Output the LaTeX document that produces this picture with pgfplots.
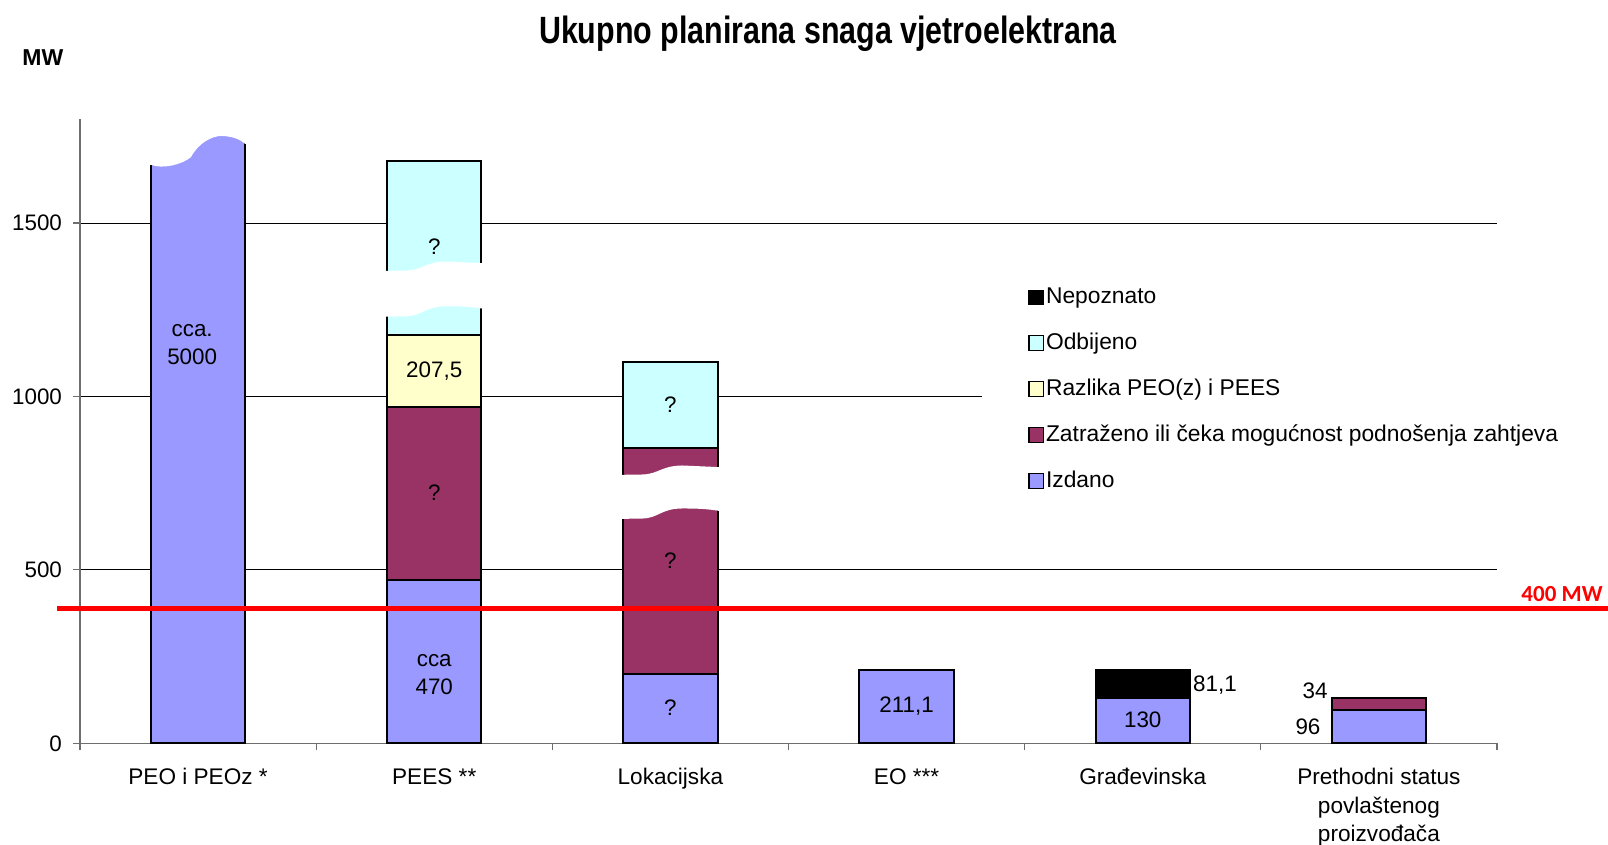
\documentclass[border=0pt]{standalone}
\usepackage{fontspec}
\setmainfont{Liberation Sans}
\newfontfamily\narrowfont[FakeStretch=0.8]{Liberation Sans}
\newfontfamily\carlito{Carlito}
\usepackage{pgfplots}
\pgfplotsset{compat=1.18}
\definecolor{izdano}{RGB}{153,153,255}
\definecolor{zatrazeno}{RGB}{153,51,102}
\definecolor{razlika}{RGB}{255,255,204}
\definecolor{odbijeno}{RGB}{204,255,255}
\definecolor{axgray}{RGB}{110,110,110}
\begin{document}
\begin{tikzpicture}
\useasboundingbox (-40pt,-50.85pt) rectangle (764pt,371.65pt);
\begin{axis}[
  scale only axis, width=708.5pt, height=312.15pt,
  ybar stacked, bar width=0.4,
  xmin=-0.5, xmax=5.5, ymin=0, ymax=1800,
  enlargelimits=false,
  axis x line*=bottom, axis y line*=left,
  axis line style={axgray, line width=0.6pt},
  xtick={0,1,2,3,4,5},
  xticklabels={PEO i PEOz *, PEES **, Lokacijska, EO ***, Građevinska, {Prethodni status\\povlaštenog\\proizvođača}},
  xticklabel style={align=center, font=\fontsize{11.3}{14.25}\selectfont, yshift=-5.5pt},
  major x tick style={draw=none},
  minor xtick={-0.5,0.5,...,5.5},
  minor x tick style={axgray, line width=0.6pt},
  tick align=outside,
  major tick length=3.5pt, minor tick length=3.5pt,
  ytick={0,500,1000,1500},
  yticklabel style={font=\fontsize{11.2}{12}\selectfont, xshift=-2pt},
  y tick style={axgray, line width=0.6pt},
  ymajorgrids, grid style={black, line width=0.5pt},
  /pgf/number format/assume math mode=true,
  /pgf/number format/1000 sep={},
  clip=false,
  reverse legend,
  legend cell align=left,
  legend image code/.code={\draw[#1, draw=black, line width=0.6pt] (0pt,-3.6pt) rectangle (7.2pt,3.6pt);},
  legend style={at={(axis description cs:0.6366,0.7520)}, anchor=north west,
    draw=none, fill=white, inner xsep=23pt, inner ysep=6pt,
    font=\fontsize{11.4}{12}\selectfont, row sep=11.2pt,
    nodes={inner sep=1pt}},
]
\addplot[fill=izdano, draw=black, line width=1pt] coordinates {(0,1760) (1,470) (2,200) (3,211.1) (4,130) (5,96)};
\addlegendentry{Izdano}
\addplot[fill=zatrazeno, draw=black, line width=1pt] coordinates {(0,0) (1,500) (2,650) (3,0) (4,0) (5,34)};
\addlegendentry{Zatraženo ili čeka mogućnost podnošenja zahtjeva}
\addplot[fill=razlika, draw=black, line width=1pt] coordinates {(0,0) (1,207.5) (2,0) (3,0) (4,0) (5,0)};
\addlegendentry{Razlika PEO(z) i PEES}
\addplot[fill=odbijeno, draw=black, line width=1pt] coordinates {(0,0) (1,500) (2,250) (3,0) (4,0) (5,0)};
\addlegendentry{Odbijeno}
\addplot[fill=black, draw=black, line width=1pt] coordinates {(0,0) (1,0) (2,0) (3,0) (4,81.1) (5,0)};
\addlegendentry{Nepoznato}
\end{axis}
% overlay axis with identical geometry for breaks, reference line and labels
\begin{axis}[
  scale only axis, width=708.5pt, height=312.15pt,
  xmin=-0.5, xmax=5.5, ymin=0, ymax=1800,
  enlargelimits=false, hide axis, clip=false,
]
\fill[white] (axis cs:-0.215,1800) -- (axis cs:-0.215,1668) -- (axis cs:-0.2,1668)
  .. controls (axis cs:-0.15,1655) and (axis cs:-0.07,1668) .. (axis cs:-0.03,1690)
  .. controls (axis cs:0.0,1730) and (axis cs:0.06,1752) .. (axis cs:0.1,1751)
  .. controls (axis cs:0.15,1750) and (axis cs:0.18,1740) .. (axis cs:0.2,1728)
  -- (axis cs:0.215,1728) -- (axis cs:0.215,1800) -- cycle;
\fill[white] (axis cs:0.785,1362) -- (axis cs:0.88,1363)
  .. controls (axis cs:0.95,1364) and (axis cs:0.96,1388) .. (axis cs:1.05,1389)
  -- (axis cs:1.215,1384) -- (axis cs:1.215,1252)
  .. controls (axis cs:1.15,1260) and (axis cs:1.1,1260) .. (axis cs:1.05,1260)
  .. controls (axis cs:0.96,1260) and (axis cs:0.95,1232) .. (axis cs:0.88,1231)
  -- (axis cs:0.785,1230) -- cycle;
\fill[white] (axis cs:1.785,774) -- (axis cs:1.88,775)
  .. controls (axis cs:1.95,776) and (axis cs:1.96,800) .. (axis cs:2.05,801)
  -- (axis cs:2.215,796) -- (axis cs:2.215,669)
  .. controls (axis cs:2.15,677) and (axis cs:2.1,677) .. (axis cs:2.05,677)
  .. controls (axis cs:1.96,677) and (axis cs:1.95,649) .. (axis cs:1.88,648)
  -- (axis cs:1.785,647) -- cycle;
\draw[red, line width=2.5pt] (axis cs:-0.597,390) -- (axis cs:5.969,390);
\node[font=\fontsize{11.2}{14}\selectfont, align=center, inner sep=0pt] at (axis cs:-0.025,1150) {cca.\\5000};
\node[font=\fontsize{11.2}{14}\selectfont, inner sep=0pt] at (axis cs:1,1431) {?};
\node[font=\fontsize{11.2}{14}\selectfont, inner sep=0pt] at (axis cs:1,1074) {207,5};
\node[font=\fontsize{11.2}{14}\selectfont, inner sep=0pt] at (axis cs:1,722) {?};
\node[font=\fontsize{11.2}{14}\selectfont, align=center, inner sep=0pt] at (axis cs:1,198) {cca\\470};
\node[font=\fontsize{11.2}{14}\selectfont, inner sep=0pt] at (axis cs:2,975) {?};
\node[font=\fontsize{11.2}{14}\selectfont, inner sep=0pt] at (axis cs:2,526) {?};
\node[font=\fontsize{11.2}{14}\selectfont, inner sep=0pt] at (axis cs:2,103) {?};
\node[font=\fontsize{11.2}{14}\selectfont, inner sep=0pt] at (axis cs:3,106) {211,1};
\node[font=\fontsize{11.2}{14}\selectfont, inner sep=0pt] at (axis cs:4,67) {130};
\node[font=\fontsize{11.2}{14}\selectfont, inner sep=0pt, anchor=west] at (axis cs:4.212,168) {81,1};
\node[font=\fontsize{11.2}{14}\selectfont, inner sep=0pt, anchor=east] at (axis cs:4.784,152) {34};
\node[font=\fontsize{11.2}{14}\selectfont, inner sep=0pt, anchor=east] at (axis cs:4.754,47) {96};
\end{axis}
\node[anchor=base, font=\narrowfont\bfseries\fontsize{19}{22}\selectfont] at (374pt,349.65pt) {Ukupno planirana snaga vjetroelektrana};
\node[anchor=base west, inner sep=0pt, font=\bfseries\fontsize{11.5}{13}\selectfont] at (-29pt,338.65pt) {MW};
\node[anchor=base east, inner sep=0pt, text=red, font=\carlito\bfseries\fontsize{11.5}{13}\selectfont] at (761.5pt,70.65pt) {400 MW};
\end{tikzpicture}
\end{document}
